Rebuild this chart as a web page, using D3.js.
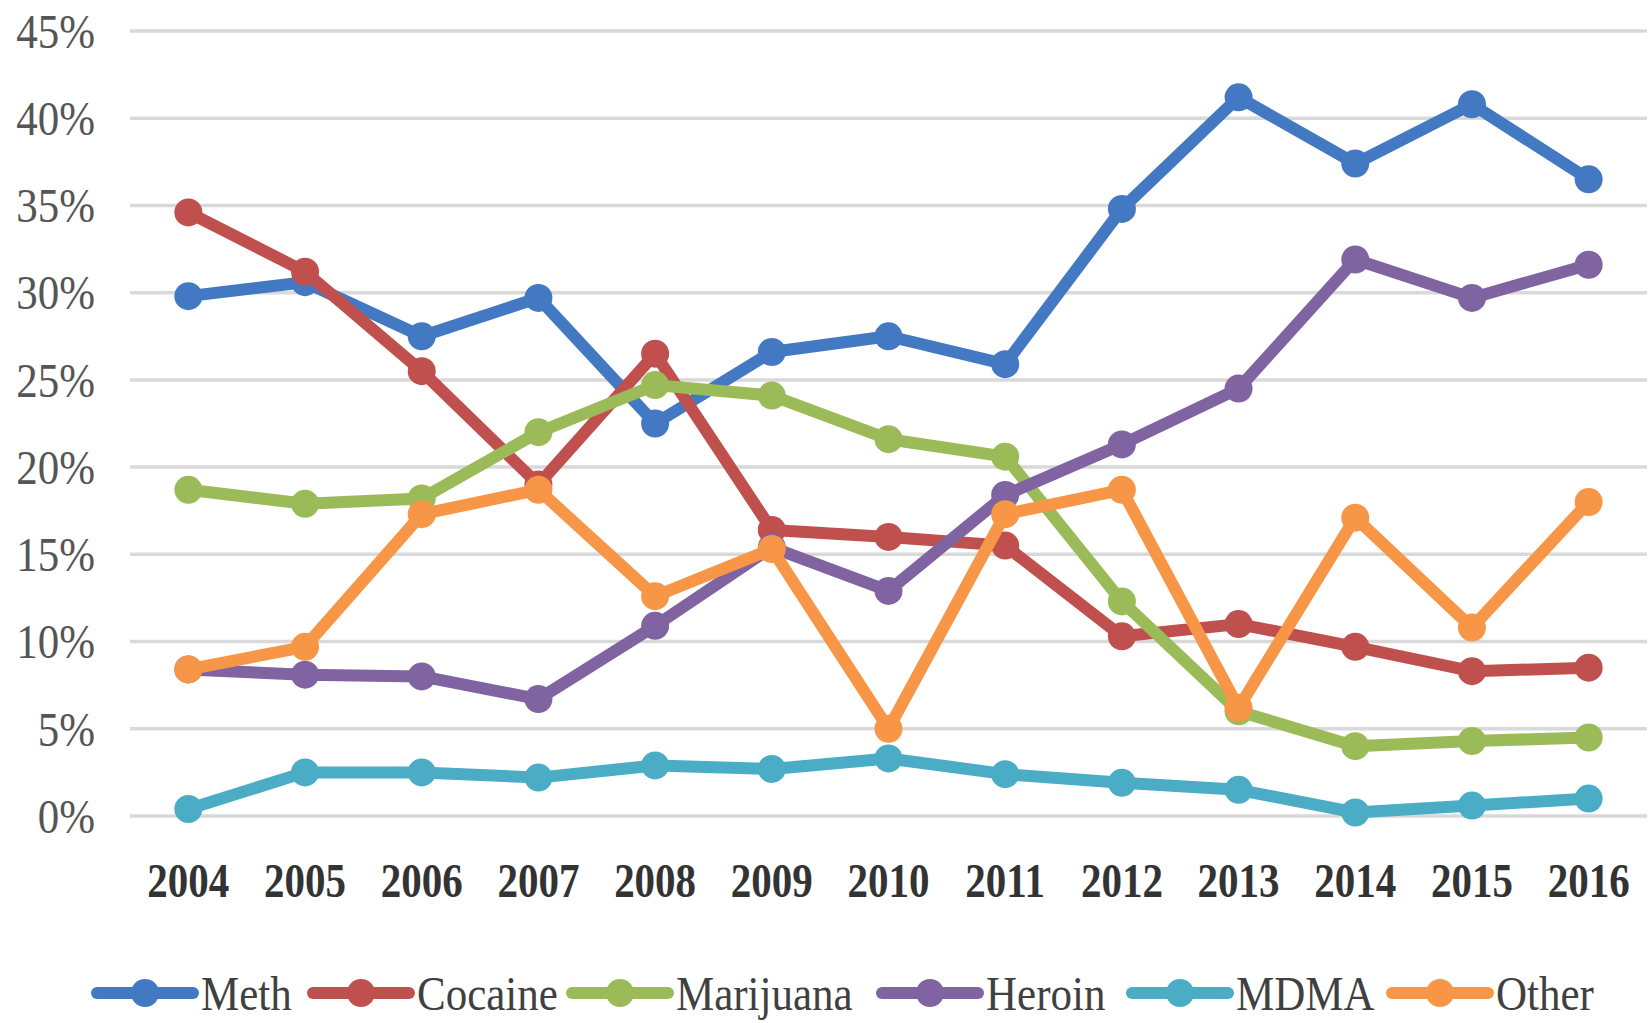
<!DOCTYPE html>
<html>
<head>
<meta charset="UTF-8" />
<title>Drug share by year</title>
<script src="https://cdn.jsdelivr.net/npm/d3@7"></script>
<style>
    body { margin: 0; background: #fff; }
    svg text { font-family: 'Liberation Serif', 'Times New Roman', serif; }
</style>
</head>
<body>
<div id="chart"></div>
<script>
    var years = ["2004","2005","2006","2007","2008","2009","2010","2011","2012","2013","2014","2015","2016"];
    var seriesNames = ["Meth","Cocaine","Marijuana","Heroin","MDMA","Other"];
    var meth      = [29.8, 30.6, 27.5, 29.7, 22.5, 26.6, 27.5, 25.9, 34.8, 41.2, 37.4, 40.8, 36.5];
    var cocaine   = [34.6, 31.2, 25.5, 19.0, 26.5, 16.4, 16.0, 15.5, 10.3, 11.0,  9.7,  8.3,  8.5];
    var marijuana = [18.7, 17.9, 18.2, 22.0, 24.7, 24.1, 21.6, 20.6, 12.3,  6.0,  4.0,  4.3,  4.5];
    var heroin    = [ 8.4,  8.1,  8.0,  6.7, 10.9, 15.4, 12.9, 18.4, 21.3, 24.5, 31.9, 29.7, 31.6];
    var mdma      = [ 0.4,  2.5,  2.5,  2.2,  2.9,  2.7,  3.3,  2.4,  1.9,  1.5,  0.2,  0.6,  1.0];
    var other     = [ 8.4,  9.7, 17.3, 18.7, 12.6, 15.3,  5.0, 17.3, 18.7,  6.2, 17.1, 10.8, 18.0];
    var yTicks = [0, 5, 10, 15, 20, 25, 30, 35, 40, 45];

    var seriesValues = [meth, cocaine, marijuana, heroin, mdma, other];
    var colors = ["#4279c2", "#c0504d", "#9bbb59", "#8064a2", "#4bacc6", "#f79646"];

    var W = 1651, H = 1023;
    var plotLeft = 130, plotRight = 1647, plotTop = 31, plotBottom = 816;

    var svg = d3.select("#chart").append("svg")
        .attr("width", W)
        .attr("height", H);

    var x = d3.scalePoint()
        .domain(years)
        .range([plotLeft, plotRight])
        .padding(0.5);

    var y = d3.scaleLinear()
        .domain([0, 45])
        .range([plotBottom, plotTop]);

    // gridlines
    svg.append("g")
        .selectAll("line")
        .data(yTicks)
        .enter().append("line")
        .attr("x1", plotLeft)
        .attr("x2", plotRight)
        .attr("y1", function(d){ return y(d); })
        .attr("y2", function(d){ return y(d); })
        .attr("stroke", "#d9d9d9")
        .attr("stroke-width", 3.5);

    // y labels (text is a bit taller than wide in the source)
    svg.append("g")
        .selectAll("text")
        .data(yTicks)
        .enter().append("text")
        .attr("transform", function(d){ return "translate(95," + y(d) + ") scale(1,1.15)"; })
        .attr("text-anchor", "end")
        .attr("dy", "0.34em")
        .attr("fill", "#555")
        .style("font-size", "43px")
        .text(function(d){ return d + "%"; });

    // x labels
    svg.append("g")
        .selectAll("text")
        .data(years)
        .enter().append("text")
        .attr("transform", function(d){ return "translate(" + x(d) + ",880) scale(1,1.2)"; })
        .attr("text-anchor", "middle")
        .attr("dy", "0.34em")
        .attr("fill", "#333")
        .style("font-size", "41px")
        .style("font-weight", "bold")
        .text(function(d){ return d; });

    var line = d3.line()
        .x(function(d, i){ return x(years[i]); })
        .y(function(d){ return y(d); });

    seriesValues.forEach(function(vals, s) {
        var g = svg.append("g");
        g.append("path")
            .datum(vals)
            .attr("d", line)
            .attr("fill", "none")
            .attr("stroke", colors[s])
            .attr("stroke-width", 12)
            .attr("stroke-linejoin", "round")
            .attr("stroke-linecap", "round");
        g.selectAll("circle")
            .data(vals)
            .enter().append("circle")
            .attr("cx", function(d, i){ return x(years[i]); })
            .attr("cy", function(d){ return y(d); })
            .attr("r", 14)
            .attr("fill", colors[s]);
    });

    // legend
    var legendX = [97, 313, 572, 882, 1132, 1392];
    var legendY = 993;
    var legend = svg.append("g");
    seriesNames.forEach(function(name, s) {
        var lx = legendX[s];
        legend.append("line")
            .attr("x1", lx)
            .attr("x2", lx + 96)
            .attr("y1", legendY)
            .attr("y2", legendY)
            .attr("stroke", colors[s])
            .attr("stroke-width", 12)
            .attr("stroke-linecap", "round");
        legend.append("circle")
            .attr("cx", lx + 48)
            .attr("cy", legendY)
            .attr("r", 14)
            .attr("fill", colors[s]);
        legend.append("text")
            .attr("transform", "translate(" + (lx + 104) + "," + legendY + ") scale(1,1.15)")
            .attr("dy", "0.34em")
            .attr("fill", "#404040")
            .style("font-size", "43px")
            .text(name);
    });
</script>
</body>
</html>
